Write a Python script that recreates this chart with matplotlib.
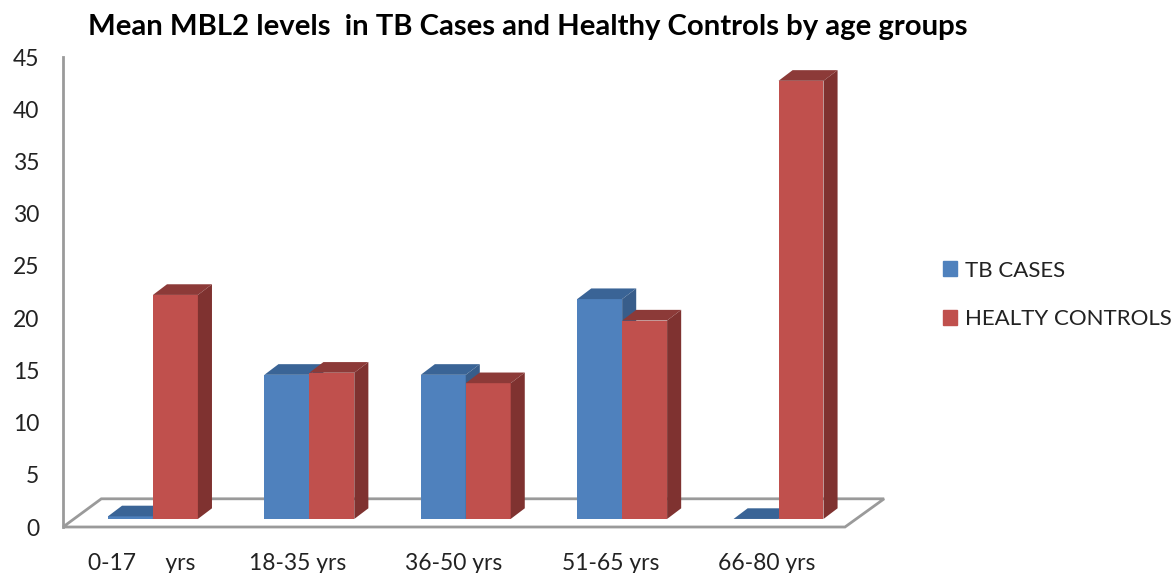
"""Mean MBL2 levels by age group, drawn as fake 3D clustered columns."""
import matplotlib
matplotlib.use('Agg')
import matplotlib.pyplot as plt
from matplotlib.patches import Patch, Polygon

age_groups = ['0-17     yrs', '18-35 yrs', '36-50 yrs', '51-65 yrs', '66-80 yrs']
tb_cases = [0.25, 13.8, 13.8, 21.05, 0]
healthy_controls = [21.45, 14.0, 13.0, 19.0, 41.95]
y_ticks = [0, 5, 10, 15, 20, 25, 30, 35, 40, 45]

BLUE = ('#4F81BD', '#3A6496', '#385D8A')
RED = ('#C0504D', '#8C3A38', '#7F3230')
AXIS_GREY = '#9A9A9A'

# depth of the 3D look and shift of the columns off the front plane, in data units
DEPTH_X = 0.09
DEPTH_Y = 1.02
BASE_X = 0.075
BASE_Y = 0.77
BAR_W = 0.2875

plt.rcParams['font.family'] = ['Lato', 'DejaVu Sans']

fig = plt.figure(figsize=(11.72, 5.73), dpi=100)
ax = fig.add_axes([63 / 1172, 1 - 527 / 573, 782 / 1172, 470 / 573])
ax.set_xlim(0, 5)
ax.set_ylim(0, 45)


def draw_column(x_left, value, colors):
    front, top, side = colors
    y0 = BASE_Y
    y1 = BASE_Y + value
    x1 = x_left + BAR_W
    ax.bar(x_left, value, BAR_W, bottom=y0, align='edge', color=front, zorder=3)
    ax.add_patch(Polygon([(x_left, y1), (x1, y1), (x1 + DEPTH_X, y1 + DEPTH_Y),
                          (x_left + DEPTH_X, y1 + DEPTH_Y)], color=top, lw=0, zorder=3))
    ax.add_patch(Polygon([(x1, y0), (x1 + DEPTH_X, y0 + DEPTH_Y),
                          (x1 + DEPTH_X, y1 + DEPTH_Y), (x1, y1)], color=side, lw=0, zorder=3))


# floor of the plot
ax.add_patch(Polygon([(0, 0), (5, 0), (5.25, 2.7), (0.245, 2.7)], closed=True, fill=False,
                     edgecolor=AXIS_GREY, lw=2, clip_on=False, zorder=1))

for i in range(len(age_groups)):
    center = i + 0.5 + BASE_X
    draw_column(center - BAR_W, tb_cases[i], BLUE)
    draw_column(center, healthy_controls[i], RED)

for name in ['top', 'right', 'bottom']:
    ax.spines[name].set_visible(False)
ax.spines['left'].set_color(AXIS_GREY)
ax.spines['left'].set_linewidth(2)

ax.set_yticks(y_ticks)
ax.set_xticks([i + 0.5 for i in range(len(age_groups))])
ax.set_xticklabels(age_groups)
ax.tick_params(axis='y', length=0, pad=17, labelsize=16.5, labelcolor='#222222')
ax.tick_params(axis='x', length=0, pad=19, labelsize=16.5, labelcolor='#222222')

fig.text(528 / 1172, 1 - 27 / 573, 'Mean MBL2 levels  in TB Cases and Healthy Controls by age groups',
         ha='center', va='center', fontsize=21.1, fontweight='bold', color='black')

handles = [Patch(color=BLUE[0], label='TB CASES'), Patch(color=RED[0], label='HEALTY CONTROLS')]
fig.legend(handles=handles, loc='center left', bbox_to_anchor=(943 / 1172, 1 - 295 / 573),
           frameon=False, fontsize=16, borderaxespad=0, borderpad=0,
           handlelength=0.63, handleheight=0.63,
           handletextpad=0.36, labelspacing=1.3, labelcolor='#222222')

fig.savefig('out.png', dpi=100, facecolor='white')
